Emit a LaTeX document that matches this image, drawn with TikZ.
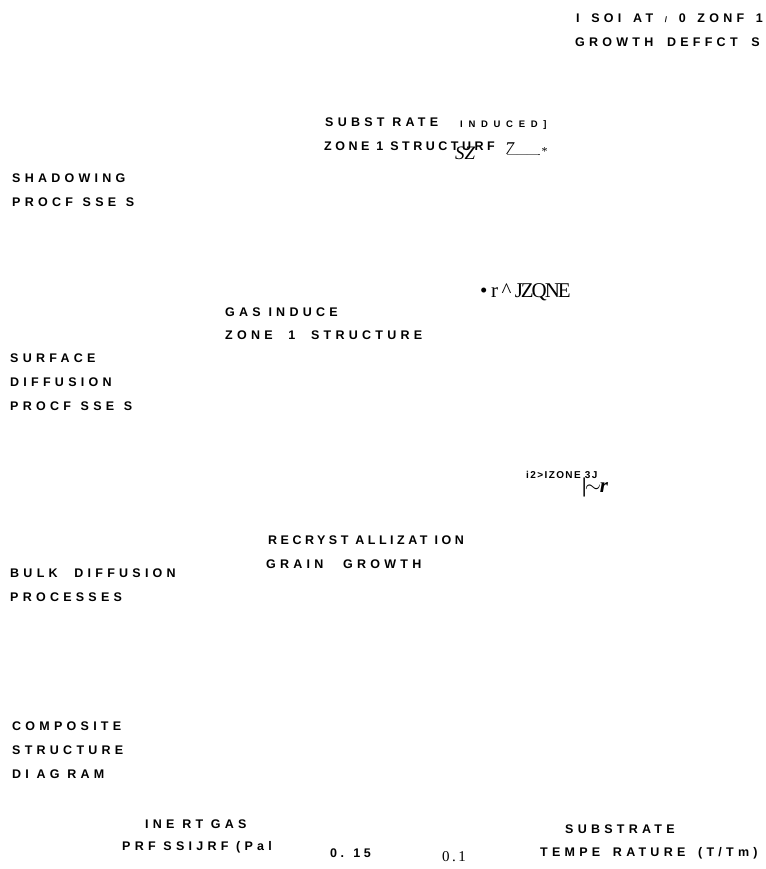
\documentclass[tikz,border=0pt]{standalone}
\usepackage{fontspec}
\setmainfont{Liberation Serif}
\newfontfamily\capsfont{Liberation Sans}[LetterSpace=34]
\newfontfamily\capsnarrow{Liberation Sans}[LetterSpace=28]
\newfontfamily\zonefont{Liberation Sans}[LetterSpace=14]
\newfontfamily\smcapsfont{Liberation Sans}[LetterSpace=60]
\newfontfamily\tightserif{Liberation Serif}[LetterSpace=-10]
\usepackage{tikz}
\newcommand\gap[1]{\hspace{#1pt}}

\begin{document}
\begin{tikzpicture}[x=1pt, y=-1pt,
  lab/.style={anchor=west, inner sep=0pt, align=left,
              font=\capsfont\bfseries\fontsize{12.5}{24}\selectfont},
  nlab/.style={lab, font=\capsnarrow\bfseries\fontsize{12.5}{24}\selectfont},
  sm/.style={anchor=west, inner sep=0pt,
             font=\smcapsfont\bfseries\fontsize{9.5}{10}\selectfont},
  ser/.style={anchor=west, inner sep=0pt, font=\fontsize{15}{17}\selectfont}]

\path[use as bounding box, fill=white] (0,0) rectangle (765,869);

% top right
\node[lab] (isol1) at (576,18) {I\gap{4} SOI\gap{4} AT\gap{4} {\fontsize{8}{9}\selectfont/}\gap{4} 0\gap{4} ZONF\gap{4} 1};
\node[lab] (isol2) at (575,42) {GROWTH\gap{6} DEFFCT\gap{6} S};

% substrate induced
\node[lab] (subst1) at (325,122) {SUBST RATE};
\node[sm]  (subst2) at (460,125) {INDUCED]};
\node[nlab] (subst3) at (324,146) {ZONE 1 STRUCTURF};
\node[ser, font=\itshape\fontsize{19}{19}\selectfont] (subst4) at (455,153) {SZ};
\node[ser, font=\itshape\fontsize{18}{18}\selectfont] (subst5) at (505,150) {7\kern-7pt\raisebox{-3pt}{\fontsize{10}{10}\upshape\selectfont----------}\kern1pt\raisebox{-1pt}{\fontsize{12}{12}\upshape\selectfont*}};

\node[lab] (shad1) at (12,178) {SHADOWING};
\node[lab] (shad2) at (12,202) {PROCF\gap{2} SSE\gap{2} S};

% gas induced
\node[ser, font=\tightserif\fontsize{21}{22}\selectfont] (zone2) at (480,292) {\textbullet\,r\,\^{}\,JZQNE};
\node[lab] (gas1) at (225,312) {GAS INDUCE};
\node[lab] (gas2) at (225,335) {ZONE\gap{8} 1\gap{8} STRUCTURE};

\node[lab] (surf1) at (10,358) {SURFACE};
\node[lab] (surf2) at (10,382) {DIFFUSION};
\node[lab] (surf3) at (10,406) {PROCF\gap{2} SSE\gap{2} S};

% zone 3
\node[lab, font=\zonefont\bfseries\fontsize{10}{12}\selectfont] (zone3) at (526,475) {i2>IZONE 3J};
\node[ser, font=\bfseries\itshape\fontsize{21}{22}\selectfont] (zone3b) at (582,487) {\textbar\kern-2pt$\sim$\kern-1pt r};

\node[nlab] (recr1) at (268,540) {RECRYST ALLIZAT ION};
\node[lab] (recr2) at (266,564) {GRAIN\gap{12} GROWTH};

\node[lab] (bulk1) at (10,573) {BULK\gap{9} DIFFUSION};
\node[lab] (bulk2) at (10,597) {PROCESSES};

\node[lab] (comp1) at (12,726) {COMPOSITE};
\node[lab] (comp2) at (12,750) {STRUCTURE};
\node[lab] (comp3) at (12,774) {DI AG RAM};

% axes
\node[lab] (press1) at (145,824) {INE RT GAS};
\node[lab] (press2) at (122,847) {PRF SSIJRF (Pal};
\node[nlab] (tick1) at (330,853) {0. 15};
\node[ser] (tick2) at (442,857) {0\,.\,1};
\node[lab] (temp1) at (565,829) {SUBSTRATE};
\node[lab] (temp2) at (540,853) {TEMPE\gap{5} RATURE\gap{5} (T/Tm)};
\end{tikzpicture}
\end{document}
